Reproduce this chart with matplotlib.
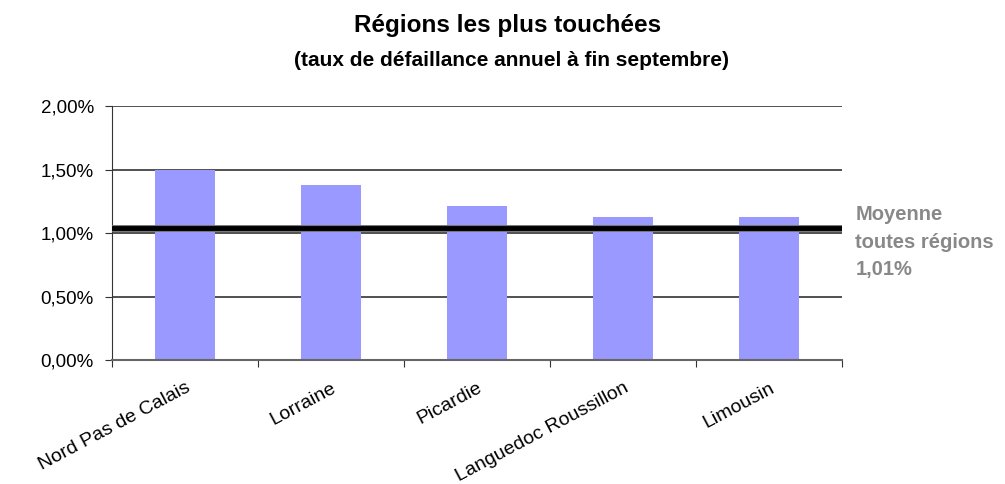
import numpy as np
import matplotlib.pyplot as plt
from matplotlib.ticker import FuncFormatter, MultipleLocator

plt.rcParams['font.family'] = ['Liberation Sans', 'DejaVu Sans']

regions = ['Nord Pas de Calais', 'Lorraine', 'Picardie', 'Languedoc Roussillon', 'Limousin']
taux = [1.50, 1.38, 1.21, 1.13, 1.13]
moyenne_ligne = 1.04
moyenne_texte = '1,01%'

fig = plt.figure(figsize=(10.05, 4.84), dpi=100)
ax = fig.add_axes([0.1114, 0.256, 0.7264, 0.525])

x = np.arange(len(regions))
ax.bar(x, taux, width=0.41, color='#9999ff', zorder=2)

# ligne moyenne
ax.axhline(moyenne_ligne, color='#777777', lw=5, zorder=3)
ax.axhline(moyenne_ligne, color='black', lw=3.5, zorder=4)

ax.set_xlim(-0.5, len(regions) - 0.5)
ax.set_ylim(0, 2.0)
ax.yaxis.set_major_locator(MultipleLocator(0.5))
ax.yaxis.set_major_formatter(FuncFormatter(lambda v, p: f'{v:.2f}%'.replace('.', ',')))
ax.grid(axis='y', color='#333333', lw=1.2, zorder=1)

ax.set_xticks(np.arange(len(regions) + 1) - 0.5)
ax.set_xticklabels([])
ax.set_xticks(x, minor=True)
ax.set_xticklabels(regions, minor=True, rotation=28, ha='right', rotation_mode='anchor', fontsize=14)
ax.tick_params(axis='x', which='minor', length=0, pad=14)
ax.tick_params(axis='x', which='major', length=5, color='#333333')
ax.tick_params(axis='y', length=5, labelsize=13.5, color='#333333', pad=8)

for s in ['top', 'right']:
    ax.spines[s].set_visible(False)
ax.spines['left'].set_color('#333333')
ax.spines['bottom'].set_color('#666666')
ax.spines['bottom'].set_linewidth(1.5)

fig.text(0.505, 0.948, 'Régions les plus touchées', ha='center', va='center', fontsize=17.5, fontweight='bold')
fig.text(0.509, 0.876, '(taux de défaillance annuel à fin septembre)', ha='center', va='center', fontsize=15, fontweight='bold')

fig.text(0.851, 0.50, 'Moyenne\ntoutes régions\n' + moyenne_texte, ha='left', va='center',
         fontsize=14.5, fontweight='bold', color='#888888', linespacing=1.55)

fig.savefig('out.png', dpi=100)
